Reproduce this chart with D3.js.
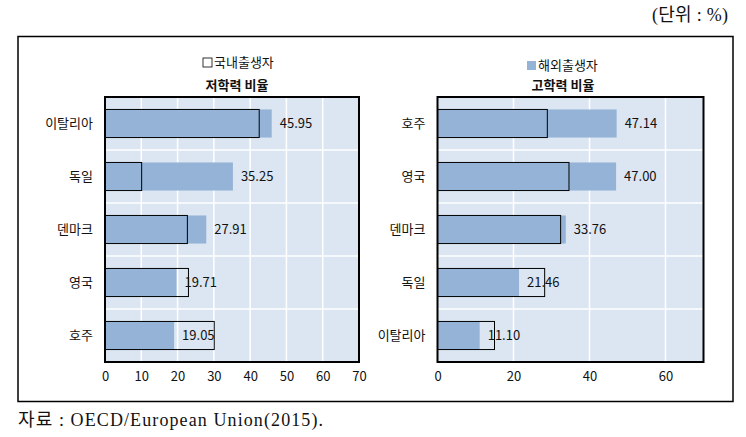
<!DOCTYPE html>
<html>
<head>
<meta charset="utf-8">
<script src="https://cdn.jsdelivr.net/npm/d3@7"></script>
<style>
  body { margin: 0; background: #fff; }
  text { font-family: "Noto Sans CJK KR", "Noto Sans", sans-serif; fill: #111; }
  .serif { font-family: "Liberation Serif", "DejaVu Serif", "Noto Sans CJK KR", serif; }
</style>
</head>
<body>
<svg id="chart" width="746" height="437"></svg>
<script>
// data
var leftCats = ["이탈리아", "독일", "덴마크", "영국", "호주"];
var leftForeign = [45.95, 35.25, 27.91, 19.71, 19.05];  // 해외출생자 (filled)
var leftNative = [42.5, 10.1, 22.7, 23.0, 30.1];        // 국내출생자 (outline), estimated

var rightCats = ["호주", "영국", "덴마크", "독일", "이탈리아"];
var rightForeign = [47.14, 47.00, 33.76, 21.46, 11.10];
var rightNative = [28.9, 34.6, 32.4, 28.2, 15.0];

var leftTicks = [0, 10, 20, 30, 40, 50, 60, 70];
var rightTicks = [0, 20, 40, 60];

var fillColor = "#95b3d7";
var bgColor = "#dce6f2";

var svg = d3.select("#chart");

// unit + outer frame
svg.append("text")
  .attr("class", "serif")
  .attr("x", 728).attr("y", 21)
  .attr("text-anchor", "end")
  .attr("font-size", "18px")
  .attr("textLength", 76)
  .attr("lengthAdjust", "spacing")
  .text("(단위 : %)");

svg.append("rect")
  .attr("x", 18).attr("y", 36.5)
  .attr("width", 715).attr("height", 365)
  .attr("fill", "none")
  .attr("stroke", "#000")
  .attr("stroke-width", 1.5);

svg.append("text")
  .attr("class", "serif")
  .attr("x", 18).attr("y", 426)
  .attr("font-size", "18px")
  .attr("textLength", 305)
  .attr("lengthAdjust", "spacing")
  .text("자료 : OECD/European  Union(2015).");

function drawPanel(opt) {
  var g = svg.append("g");
  var x = d3.scaleLinear().domain([0, 70]).range([opt.x0, opt.x1]);
  var y = d3.scaleBand().domain(opt.cats).range([opt.y0, opt.y1]).paddingInner(0.47).paddingOuter(0.235);
  var band = d3.scaleBand().domain(opt.cats).range([opt.y0, opt.y1]);

  g.append("rect")
    .attr("x", opt.x0).attr("y", opt.y0)
    .attr("width", opt.x1 - opt.x0).attr("height", opt.y1 - opt.y0)
    .attr("fill", bgColor);

  // vertical grid
  g.selectAll(".vg")
    .data(opt.ticks.slice(1))
    .enter().append("line")
    .attr("x1", function(d) { return x(d); })
    .attr("x2", function(d) { return x(d); })
    .attr("y1", opt.y0).attr("y2", opt.y1)
    .attr("stroke", "#fff").attr("stroke-width", 1.5);

  // horizontal grid between rows
  g.selectAll(".hg")
    .data(opt.cats.slice(1))
    .enter().append("line")
    .attr("x1", opt.x0).attr("x2", opt.x1)
    .attr("y1", function(d) { return band(d); })
    .attr("y2", function(d) { return band(d); })
    .attr("stroke", "#fff").attr("stroke-width", 1.5);

  // foreign-born filled bars
  g.selectAll(".fb")
    .data(opt.foreign)
    .enter().append("rect")
    .attr("x", x(0))
    .attr("y", function(d, i) { return y(opt.cats[i]); })
    .attr("width", function(d) { return x(d) - x(0); })
    .attr("height", y.bandwidth())
    .attr("fill", fillColor);

  // native-born outline bars
  g.selectAll(".nb")
    .data(opt.native)
    .enter().append("rect")
    .attr("x", x(0))
    .attr("y", function(d, i) { return y(opt.cats[i]); })
    .attr("width", function(d) { return x(d) - x(0); })
    .attr("height", y.bandwidth())
    .attr("fill", "none")
    .attr("stroke", "#000")
    .attr("stroke-width", 1);

  // value labels
  g.selectAll(".vl")
    .data(opt.foreign)
    .enter().append("text")
    .attr("x", function(d) { return x(d) + 8; })
    .attr("y", function(d, i) { return y(opt.cats[i]) + y.bandwidth() / 2; })
    .attr("dy", "0.35em")
    .attr("font-size", "13px")
    .text(function(d) { return d.toFixed(2); });

  // plot frame
  g.append("rect")
    .attr("x", opt.x0).attr("y", opt.y0)
    .attr("width", opt.x1 - opt.x0).attr("height", opt.y1 - opt.y0)
    .attr("fill", "none")
    .attr("stroke", "#000")
    .attr("stroke-width", 2);

  var xAxis = g.append("g")
    .attr("transform", "translate(0," + opt.y1 + ")")
    .call(d3.axisBottom(x).tickValues(opt.ticks).tickSize(0).tickPadding(10));
  xAxis.select(".domain").remove();
  xAxis.selectAll("text").attr("font-size", "13px").attr("font-family", "Noto Sans CJK KR").attr("fill", "#111");

  var yAxis = g.append("g")
    .attr("transform", "translate(" + opt.x0 + ",0)")
    .call(d3.axisLeft(band).tickSize(0).tickPadding(12));
  yAxis.select(".domain").remove();
  yAxis.selectAll("text").attr("font-size", "13px").attr("font-family", "Noto Sans CJK KR").attr("fill", "#111");

  // title and legend entry
  g.append("text")
    .attr("x", opt.titleX).attr("y", 90)
    .attr("text-anchor", "middle")
    .attr("font-size", "13px")
    .attr("font-weight", "bold")
    .text(opt.title);

  var lg = g.append("g").attr("transform", "translate(" + opt.legX + "," + opt.legY + ")");
  lg.append("rect")
    .attr("x", 0).attr("y", -9)
    .attr("width", 9).attr("height", 9)
    .attr("fill", opt.legFilled ? fillColor : "none")
    .attr("stroke", opt.legFilled ? "none" : "#000")
    .attr("stroke-width", 0.8);
  lg.append("text")
    .attr("x", 11).attr("y", 0)
    .attr("font-size", "13px")
    .text(opt.legend);
}

drawPanel({
  cats: leftCats, foreign: leftForeign, native: leftNative, ticks: leftTicks,
  x0: 105, x1: 359, y0: 97, y1: 362,
  title: "저학력 비율", titleX: 237,
  legend: "국내출생자", legX: 203, legY: 67, legFilled: false
});

drawPanel({
  cats: rightCats, foreign: rightForeign, native: rightNative, ticks: rightTicks,
  x0: 437.5, x1: 703.5, y0: 97, y1: 362,
  title: "고학력 비율", titleX: 563,
  legend: "해외출생자", legX: 527, legY: 70, legFilled: true
});
</script>
</body>
</html>
